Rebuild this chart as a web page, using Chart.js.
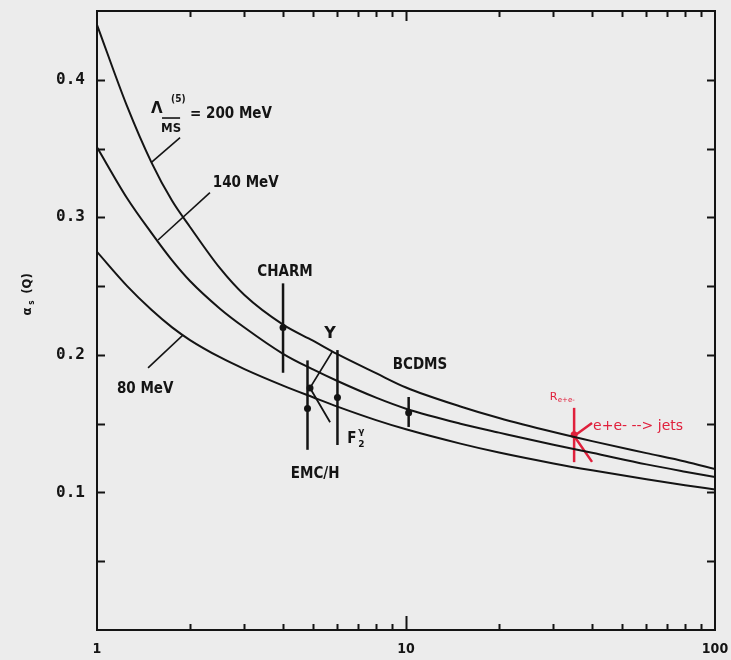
<!DOCTYPE html>
<html>
<head>
<meta charset="utf-8">
<script src="https://cdn.jsdelivr.net/npm/chart.js@4/dist/chart.umd.min.js"></script>
<style>
  html, body { margin: 0; padding: 0; background: #ececec; }
  #c { display: block; }
</style>
</head>
<body>
<canvas id="c" width="731" height="660"></canvas>
<script>
// Running coupling alpha_s(Q) for three values of Lambda_MS(5), with measurements.
const qGrid    = [1, 1.25, 1.5, 1.75, 2, 2.5, 3, 4, 5, 6, 8, 10, 15, 20, 30, 40, 60, 80, 100];
const alpha200 = [0.440, 0.381, 0.340, 0.312, 0.293, 0.263, 0.2435, 0.222, 0.2103, 0.2005, 0.1867, 0.1763,
                  0.1625, 0.1541, 0.1439, 0.1373, 0.1286, 0.1225, 0.117];
const alpha140 = [0.351, 0.3141, 0.2887, 0.2687, 0.2537, 0.2336, 0.2199, 0.2008, 0.1894, 0.1810, 0.1689, 0.1609,
                  0.1500, 0.1435, 0.1346, 0.1288, 0.1204, 0.1151, 0.1112];
const alpha80  = [0.2749, 0.2502, 0.2328, 0.2200, 0.2108, 0.1983, 0.1897, 0.1777, 0.1692, 0.1624, 0.1526, 0.1459,
                  0.1355, 0.1290, 0.1211, 0.1161, 0.1096, 0.1053, 0.1022];

// Measurements: central value with vertical error bar
const expNames = ['CHARM', 'EMC/H', 'F2gamma', 'BCDMS', 'Re+e-'];
const expQ     = [4.0, 4.8, 6.0, 10.2, 35];
const expAlpha = [0.220, 0.161, 0.169, 0.158, 0.142];
const expLow   = [0.187, 0.131, 0.1345, 0.1476, 0.122];
const expHigh  = [0.252, 0.196, 0.2035, 0.1694, 0.1615];

// Upsilon decay band (slanted) and e+e- -> jets band
const upsQ      = [5.76, 4.89, 5.68];
const upsAlpha  = [0.202, 0.176, 0.151];
const jetsQ     = [40, 35, 40];
const jetsAlpha = [0.1505, 0.141, 0.1222];

// Short leader lines from curve labels to their curves
const lead200Q = [1.857, 1.50];  const lead200A = [0.358, 0.340];
const lead140Q = [2.32, 1.576];  const lead140A = [0.318, 0.2835];
const lead80Q  = [1.463, 1.90];  const lead80A  = [0.1905, 0.2145];

// Axis ticks
const yMarks    = [0.05, 0.10, 0.15, 0.20, 0.25, 0.30, 0.35, 0.40];
const yLabelled = [0.1, 0.2, 0.3, 0.4];
const xMinor    = [2, 3, 4, 5, 6, 7, 8, 9, 20, 30, 40, 50, 60, 70, 80, 90];
const xMajor    = [10];
const xLabelled = [1, 10, 100];

const INK = '#141414';
const RED = '#e0203c';

const pts = (xs, ys) => xs.map((x, i) => ({ x, y: ys[i] }));

function lineSet(data, color, width, extra) {
  return Object.assign({
    data, showLine: true, borderColor: color, backgroundColor: color,
    borderWidth: width, pointRadius: 0, fill: false
  }, extra || {});
}

const datasets = [
  lineSet(pts(qGrid, alpha200), INK, 2, { cubicInterpolationMode: 'monotone' }),
  lineSet(pts(qGrid, alpha140), INK, 2, { cubicInterpolationMode: 'monotone' }),
  lineSet(pts(qGrid, alpha80),  INK, 2, { cubicInterpolationMode: 'monotone' }),
  lineSet(pts(lead200Q, lead200A), INK, 1.6),
  lineSet(pts(lead140Q, lead140A), INK, 1.6),
  lineSet(pts(lead80Q,  lead80A),  INK, 1.6),
];

expQ.forEach((q, i) => {
  const color = expNames[i] === 'Re+e-' ? RED : INK;
  datasets.push(lineSet([{ x: q, y: expLow[i] }, { x: q, y: expHigh[i] }], color, 2.5));
});
datasets.push(lineSet(pts(upsQ, upsAlpha), INK, 1.8));
datasets.push(lineSet(pts(jetsQ, jetsAlpha), RED, 2.5));
datasets.push({
  data: pts(expQ, expAlpha).concat([{ x: upsQ[1], y: upsAlpha[1] }]),
  showLine: false, pointRadius: 3.5, pointBorderWidth: 0,
  pointBackgroundColor: expNames.map(n => n === 'Re+e-' ? RED : INK).concat([INK])
});

// Text annotations, anchored in data coordinates
const LABEL_FONT = 'bold 15px "DejaVu Sans Condensed", "DejaVu Sans", sans-serif';
const annotations = [
  { text: 'CHARM', q: 4.06, a: 0.2573, align: 'center' },
  { text: 'Υ',     q: 5.68, a: 0.2123, align: 'center', font: 'bold 16px "DejaVu Sans", sans-serif' },
  { text: 'BCDMS', q: 11.1, a: 0.1897, align: 'center' },
  { text: 'EMC/H', q: 5.08, a: 0.1105, align: 'center' },
  { text: '140 MeV', q: 2.37, a: 0.322, align: 'left' },
  { text: '80 MeV',  q: 1.16, a: 0.1723, align: 'left' },
  { text: '= 200 MeV', q: 2.0, a: 0.3722, align: 'left' },
  { text: 'Λ',   q: 2.0, a: 0.3722, dx: -39, dy: -5, align: 'left', font: 'bold 15px "DejaVu Sans", sans-serif' },
  { text: '(5)', q: 2.0, a: 0.3722, dx: -19, dy: -16, align: 'left', font: 'bold 10px "DejaVu Sans Condensed", sans-serif' },
  { text: 'MS',  q: 2.0, a: 0.3722, dx: -29, dy: 14, align: 'left', font: 'bold 13px "DejaVu Sans Condensed", sans-serif', overline: true },
  { text: 'F', q: 6.45, a: 0.136, align: 'left', font: 'bold 15px "DejaVu Sans Condensed", sans-serif' },
  { text: 'γ', q: 6.45, a: 0.136, dx: 11, dy: -9, align: 'left', font: 'bold 9px "DejaVu Sans", sans-serif' },
  { text: '2', q: 6.45, a: 0.136, dx: 11, dy: 4, align: 'left', font: 'bold 9px "DejaVu Sans", sans-serif' },
  { text: 'R', q: 29.2, a: 0.1672, align: 'left', color: RED, font: '11px "DejaVu Sans", sans-serif' },
  { text: 'e+e-', q: 29.2, a: 0.1672, dx: 8, dy: 2, align: 'left', color: RED, font: '7px "DejaVu Sans", sans-serif' },
  { text: 'e+e- --> jets', q: 40.3, a: 0.1454, align: 'left', color: RED, font: '14px "DejaVu Sans", sans-serif' },
];

const annotationPlugin = {
  id: 'annotationText',
  afterDatasetsDraw(chart) {
    const { ctx, scales: { x, y } } = chart;
    ctx.save();
    ctx.textBaseline = 'alphabetic';
    annotations.forEach(t => {
      const px = x.getPixelForValue(t.q) + (t.dx || 0);
      const py = y.getPixelForValue(t.a) + (t.dy || 0);
      ctx.font = t.font || LABEL_FONT;
      ctx.fillStyle = t.color || INK;
      ctx.textAlign = t.align || 'left';
      ctx.fillText(t.text, px, py);
      if (t.overline) {
        const w = ctx.measureText(t.text).width;
        ctx.strokeStyle = t.color || INK;
        ctx.lineWidth = 1.6;
        ctx.beginPath();
        ctx.moveTo(px + 1, py - 14);
        ctx.lineTo(px + w - 1, py - 14);
        ctx.stroke();
      }
    });
    // axis title, rotated
    const area = chart.chartArea;
    ctx.translate(area.left - 70, (area.top + area.bottom) / 2 - 24);
    ctx.rotate(-Math.PI / 2);
    ctx.textAlign = 'center';
    ctx.fillStyle = INK;
    ctx.font = 'bold 13px "DejaVu Sans Condensed", sans-serif';
    ctx.fillText('α', -15, 4);
    ctx.font = 'bold 8px "DejaVu Sans Condensed", sans-serif';
    ctx.fillText('s', -6, 7);
    ctx.font = 'bold 13px "DejaVu Sans Condensed", sans-serif';
    ctx.fillText('(Q)', 13, 4);
    ctx.restore();
  }
};

// Inward tick marks on all four sides
const tickPlugin = {
  id: 'inwardTicks',
  afterDraw(chart) {
    const { ctx, chartArea: a, scales: { x, y } } = chart;
    ctx.save();
    ctx.strokeStyle = INK;
    ctx.lineWidth = 2;
    ctx.beginPath();
    yMarks.forEach(v => {
      const py = Math.round(y.getPixelForValue(v)) + 0.5;
      ctx.moveTo(a.left, py);  ctx.lineTo(a.left + 8, py);
      ctx.moveTo(a.right, py); ctx.lineTo(a.right - 8, py);
    });
    xMinor.forEach(v => {
      const px = Math.round(x.getPixelForValue(v)) + 0.5;
      ctx.moveTo(px, a.bottom); ctx.lineTo(px, a.bottom - 6);
      ctx.moveTo(px, a.top);    ctx.lineTo(px, a.top + 6);
    });
    xMajor.forEach(v => {
      const px = Math.round(x.getPixelForValue(v)) + 0.5;
      ctx.moveTo(px, a.bottom); ctx.lineTo(px, a.bottom - 14);
      ctx.moveTo(px, a.top);    ctx.lineTo(px, a.top + 10);
    });
    ctx.stroke();
    ctx.restore();
  }
};

const frame = { display: true, color: INK, width: 2 };
const noGrid = { display: true, drawOnChartArea: false, drawTicks: false };
const tickFont = { family: '"DejaVu Sans Mono", monospace', weight: 'bold', size: 16 };

// keep the plot frame exactly where the layout padding puts it
function noEdgePadding(s) {
  s.paddingTop = 0; s.paddingBottom = 0; s.paddingLeft = 0; s.paddingRight = 0;
}

new Chart(document.getElementById('c'), {
  type: 'scatter',
  data: { datasets },
  options: {
    responsive: false,
    animation: false,
    events: [],
    layout: { padding: { left: 0, top: 11, right: 16, bottom: 0 } },
    plugins: { legend: { display: false }, tooltip: { enabled: false } },
    scales: {
      x: {
        type: 'logarithmic', position: 'bottom', min: 1, max: 100,
        border: frame, grid: noGrid,
        afterFit(s) { s.height = 30; noEdgePadding(s); },
        ticks: {
          autoSkip: false, maxRotation: 0, padding: 11, color: INK,
          font: { family: '"DejaVu Sans Condensed", sans-serif', weight: 'bold', size: 14 },
          callback: v => xLabelled.includes(v) ? String(v) : ''
        }
      },
      y: {
        type: 'linear', position: 'left', min: 0, max: 0.45,
        border: frame, grid: noGrid,
        afterFit(s) { s.width = 97; noEdgePadding(s); },
        ticks: {
          stepSize: 0.05, padding: 12, color: INK, font: tickFont,
          callback: v => yLabelled.some(l => Math.abs(l - v) < 1e-6) ? v.toFixed(1) : ''
        }
      },
      x2: {
        type: 'logarithmic', position: 'top', min: 1, max: 100,
        border: frame, grid: noGrid, ticks: { display: false },
        afterFit(s) { s.height = 0; noEdgePadding(s); }
      },
      y2: {
        type: 'linear', position: 'right', min: 0, max: 0.45,
        border: frame, grid: noGrid, ticks: { display: false },
        afterFit(s) { s.width = 0; noEdgePadding(s); }
      }
    }
  },
  plugins: [tickPlugin, annotationPlugin]
});
</script>
</body>
</html>
